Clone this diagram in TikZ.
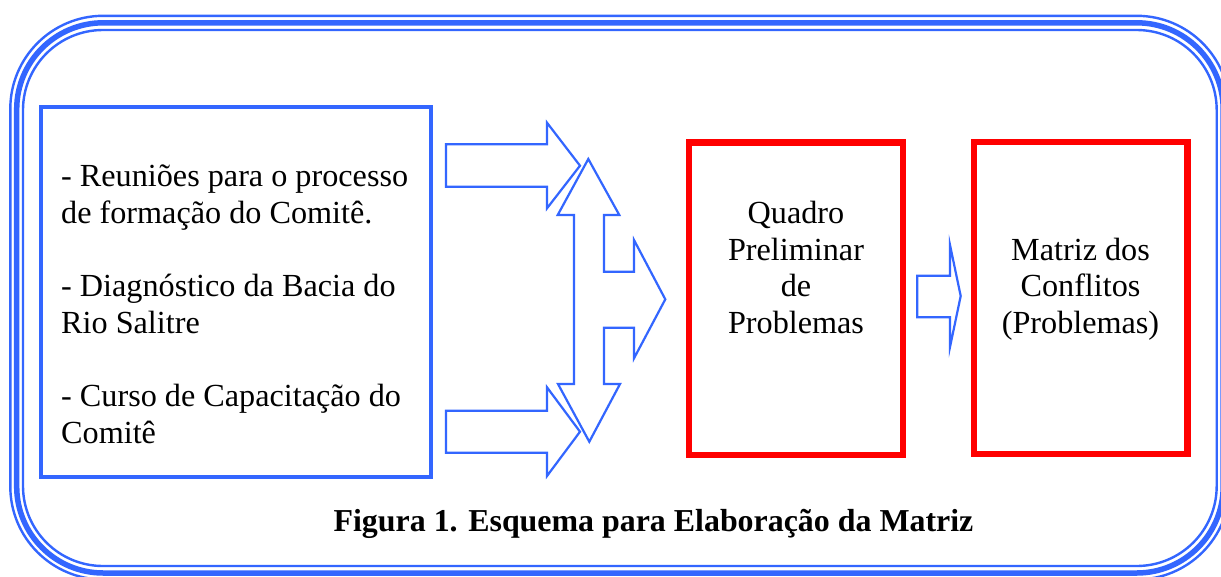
\documentclass[tikz,border=0pt]{standalone}
\usepackage{fontspec}
\setmainfont{Liberation Serif}
\definecolor{frameblue}{RGB}{51,102,255}
\definecolor{boxred}{RGB}{255,0,0}
\begin{document}
\begin{tikzpicture}[x=1pt,y=-1pt,
  txt/.style={inner sep=0pt, font=\fontsize{32.2}{36.7}\selectfont},
  ttl/.style={inner sep=0pt, font=\fontsize{31.9}{36}\selectfont\bfseries},
  bluebox/.style={draw=frameblue, line width=4.2pt, inner sep=0pt},
  redbox/.style={draw=boxred, line width=6.7pt, inner sep=0pt},
  blockarrow/.style={draw=frameblue, line width=2.2pt, line join=miter},
  framethin/.style={draw=frameblue, line width=2.4pt},
  framethick/.style={draw=frameblue, line width=5.5pt}]
\useasboundingbox (0,0) rectangle (1221,576);
\clip (0,0) rectangle (1221,576);
\fill[white] (0,0) rectangle (1221,576);
% triple outer frame
\draw[framethin, rounded corners=93pt] (10.3,15.8) rectangle (1229.7,579.5);
\draw[framethick, rounded corners=86.5pt] (16.7,22.8) rectangle (1223.2,573);
\draw[framethin, rounded corners=80pt] (23,30) rectangle (1216.7,566);
% boxes
\node[bluebox, minimum width=390pt, minimum height=370pt] (src) at (236,292) {};
\node[redbox, minimum width=214pt, minimum height=312.5pt] (quadro) at (796,298.75) {};
\node[redbox, minimum width=213.5pt, minimum height=312pt] (matriz) at (1080.75,298) {};
% left text
\node[txt, anchor=base west] (l1) at (61,186.7) {- Reuniões para o processo};
\node[txt, anchor=base west] (l2) at (61,223.3) {de formação do Comitê.};
\node[txt, anchor=base west] (l3) at (61,296.7) {- Diagnóstico da Bacia do};
\node[txt, anchor=base west] (l4) at (61,333.3) {Rio Salitre};
\node[txt, anchor=base west] (l5) at (61,406.7) {- Curso de Capacitação do};
\node[txt, anchor=base west] (l6) at (61,443.3) {Comitê};
% box 1 text
\node[txt, anchor=base] (q1) at (796,223.3) {Quadro};
\node[txt, anchor=base] (q2) at (796,260) {Preliminar};
\node[txt, anchor=base] (q3) at (796,296.7) {de};
\node[txt, anchor=base] (q4) at (796,333.3) {Problemas};
% box 2 text
\node[txt, anchor=base] (m1) at (1080.5,260) {Matriz dos};
\node[txt, anchor=base] (m2) at (1080.5,296.7) {Conflitos};
\node[txt, anchor=base] (m3) at (1080.5,333.3) {(Problemas)};
% title
\node[ttl, anchor=base] (title) at (653.5,531.7) {Figura 1. Esquema para Elaboração da Matriz};
% block arrows
\draw[blockarrow] (446,144.3) -- (547,144.3) -- (547,122.7) -- (580,165.7) -- (547,208.3) -- (547,186.7) -- (446,186.7) -- cycle;
\draw[blockarrow] (446,410.7) -- (547,410.7) -- (547,387.3) -- (580,431.7) -- (547,476) -- (547,452.7) -- (446,452.7) -- cycle;
\draw[blockarrow] (588.3,159) -- (619.3,215) -- (604,215) -- (604,271.7) -- (634,271.7) -- (634,240) -- (665.3,299.3) -- (634,358.3) -- (634,327.7) -- (604,327.7) -- (604,384) -- (620,384) -- (589.3,441.7) -- (558,384) -- (574,384) -- (574,215) -- (557.7,215) -- cycle;
\draw[blockarrow] (917.3,275.7) -- (950,275.7) -- (950,245) -- (960.7,296) -- (950,347) -- (950,317.3) -- (917.3,317.3) -- cycle;
\end{tikzpicture}
\end{document}
